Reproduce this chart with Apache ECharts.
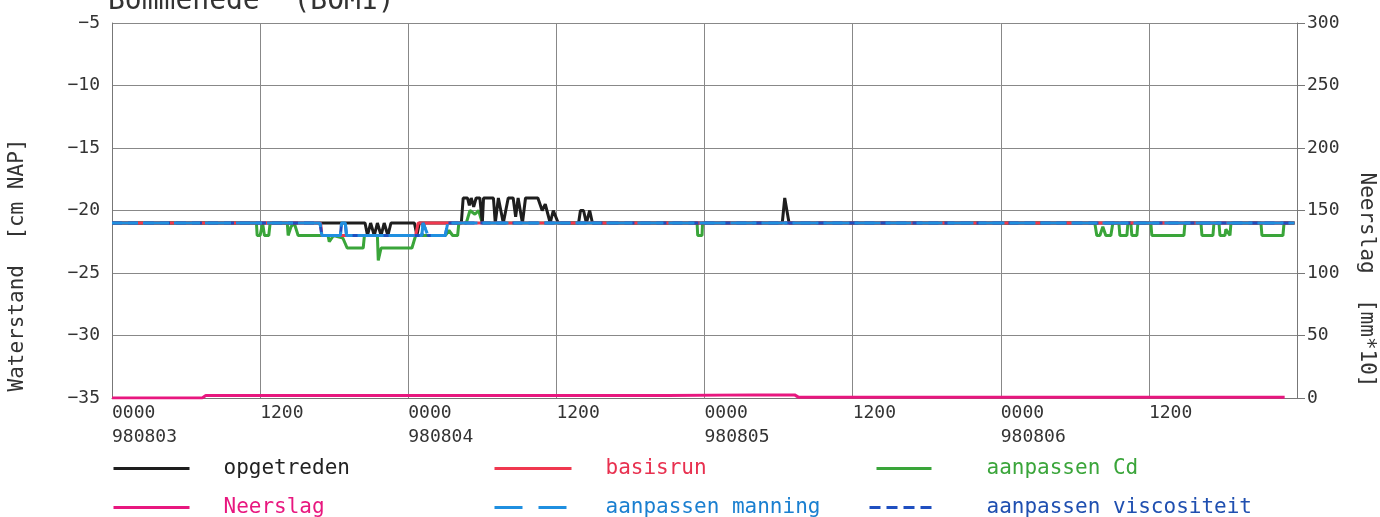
<!DOCTYPE html>
<html>
<head>
<meta charset="utf-8">
<script src="https://cdn.jsdelivr.net/npm/echarts@6/dist/echarts.min.js"></script>
<style>html,body{margin:0;padding:0;background:#fff}#c{width:1380px;height:517px}</style>
</head>
<body>
<div id="c"></div>
<script>
// x in hours from 980803 0000
const xTickLabels = ['0000\n980803','1200','0000\n980804','1200','0000\n980805','1200','0000\n980806','1200',''];
const opgetreden = [[0,-21],[17.0,-21],[20.5,-21],[20.7,-22],[20.95,-21],[21.25,-22],[21.5,-21],[21.8,-22],[22.05,-21],[22.35,-22],[22.6,-21],[24.5,-21],[24.7,-22],[24.9,-21],[25.3,-21],[28.3,-21],[28.45,-19],[28.8,-19],[28.95,-19.6],[29.1,-19],[29.3,-19.7],[29.5,-19],[29.8,-19],[30.0,-21],[30.1,-19],[30.9,-19],[31.05,-21],[31.3,-19],[31.7,-21],[32.1,-19],[32.5,-19],[32.7,-20.5],[32.9,-19],[33.25,-21],[33.5,-19],[34.5,-19],[34.85,-20],[35.1,-19.5],[35.5,-21],[35.75,-20],[36.15,-21],[37.8,-21],[37.95,-20],[38.2,-20],[38.43,-21],[38.7,-20],[38.92,-21],[54.3,-21],[54.5,-19],[54.65,-19],[54.85,-21],[95.8,-21]];
const basisrun = [[0,-21],[16.9,-21],[17.0,-22],[24.6,-22],[24.8,-21],[95.8,-21]];
const aanpassenCd = [[0,-21],[11.7,-21],[11.76,-22],[12.0,-22],[12.2,-21],[12.35,-22],[12.7,-22],[12.81,-21],[14.2,-21],[14.27,-22],[14.5,-21.3],[14.76,-21],[15.08,-22],[17.5,-22],[17.6,-22.5],[17.95,-22],[18.7,-22.2],[19.05,-23],[20.35,-23],[20.45,-22],[21.5,-22],[21.57,-24],[21.8,-23],[24.3,-23],[24.45,-22.5],[24.6,-22],[27.0,-22],[27.3,-21.6],[27.6,-22],[28.0,-22],[28.1,-21],[28.7,-21],[29.0,-20],[29.4,-20.3],[29.7,-20],[30.0,-21],[47.4,-21],[47.45,-22],[47.8,-22],[47.84,-21],[79.62,-21],[79.78,-22],[80.03,-22],[80.27,-21.3],[80.51,-22],[80.92,-22],[81.08,-21],[81.57,-21],[81.65,-22],[82.22,-22],[82.3,-21],[82.54,-21],[82.62,-22],[83.03,-22],[83.11,-21],[84.16,-21],[84.24,-22],[86.84,-22],[86.92,-21],[88.22,-21],[88.3,-22],[89.19,-22],[89.27,-21],[89.68,-21],[89.76,-22],[90.16,-22],[90.24,-21.5],[90.57,-22],[90.65,-21],[93.08,-21],[93.16,-22],[94.86,-22],[94.95,-21],[95.8,-21]];
const aanpassenManning = [[0,-21],[16.85,-21],[17.0,-22],[18.5,-22],[18.6,-21],[18.9,-21],[19.0,-22],[25.1,-22],[25.2,-21],[25.6,-22],[27.0,-22],[27.2,-21],[95.8,-21]];
const aanpassenViscositeit = [[0,-21],[16.85,-21],[17.0,-22],[18.5,-22],[18.6,-21],[18.9,-21],[19.0,-22],[25.1,-22],[25.2,-21],[25.6,-22],[27.0,-22],[27.2,-21],[95.8,-21]];
const neerslag = [[0,0],[7.3,0],[7.6,2],[45,2],[52,2.5],[55.3,2.5],[55.6,0.7],[95,0.7]];

const FONT = '"DejaVu Sans Mono", monospace';
const chart = echarts.init(document.getElementById('c'), null, {renderer:'canvas'});

function lg(name, left, top, iw, pad, color, dash){
  return {data:[{name:name, textStyle:{color:color}}], left:left, top:top, itemWidth:iw, itemHeight:14,
    itemStyle:{opacity:0, borderWidth:0},
    lineStyle:{width:3, type: dash || 'solid'},
    textStyle:{fontFamily:FONT, fontSize:21, color:color, padding:[0,0,0,pad]}, padding:0};
}
const line = (name, data, color, type, z, yIdx, w) => ({
  name, type:'line', data, yAxisIndex: yIdx||0, symbol:'none', showSymbol:false, z, animation:false,
  lineStyle:{color, width: w||3, type: type||'solid'}, itemStyle:{color}
});

chart.setOption({
  animation:false,
  title:{text:'Bommenede  (BOM1)', left:103, top:-17, textStyle:{fontFamily:FONT, fontSize:28, fontWeight:'normal', color:'#333'}},
  grid:{left:112, right:83, top:23, bottom:119, containLabel:false},
  legend:[
    lg('opgetreden', 112, 458, 76, 29, '#222'),
    lg('basisrun', 493, 458, 77, 29, '#e8304f'),
    lg('aanpassen Cd', 875, 458, 55, 50, '#3aa53a'),
    lg('Neerslag', 112, 497, 76, 29, '#e8177f'),
    lg('aanpassen manning', 493, 497, 77, 29, '#1a7fd0', [28,16]),
    lg('aanpassen viscositeit', 868, 497, 62, 50, '#1f4fb0', [11,6])
  ],
  xAxis:{type:'value', min:0, max:96, interval:12,
    axisLine:{show:true, lineStyle:{color:'#777'}}, axisTick:{show:false},
    splitLine:{show:true, lineStyle:{color:'#888', width:1}},
    axisLabel:{fontFamily:FONT, fontSize:18, color:'#333', align:'left', lineHeight:24, margin:3,
      formatter: v => xTickLabels[Math.round(v/12)] || ''}},
  yAxis:[
    {type:'value', min:-35, max:-5, interval:5, position:'left',
     axisLine:{show:true, lineStyle:{color:'#777'}}, axisTick:{show:false},
     splitLine:{show:true, lineStyle:{color:'#888', width:1}},
     axisLabel:{fontFamily:FONT, fontSize:18, color:'#333', margin:12, formatter: v => String(v).replace('-','\u2212')}},
    {type:'value', min:0, max:300, interval:50, position:'right',
     axisLine:{show:true, lineStyle:{color:'#777'}}, axisTick:{show:true, length:8, lineStyle:{color:'#777'}},
     splitLine:{show:false},
     axisLabel:{fontFamily:FONT, fontSize:18, color:'#333', margin:10}}
  ],
  graphic:[
    {type:'text', x:18, y:265, rotation:Math.PI/2, style:{text:'Waterstand  [cm NAP]', font:'21px '+FONT, fill:'#333', align:'center', verticalAlign:'middle'}},
    {type:'text', x:1366, y:280, rotation:-Math.PI/2, style:{text:'Neerslag  [mm*10]', font:'21px '+FONT, fill:'#333', align:'center', verticalAlign:'middle'}}
  ],
  series:[
    line('aanpassen Cd', aanpassenCd, '#3aa53a', 'solid', 2),
    line('opgetreden', opgetreden, '#1e1e1e', 'solid', 3),
    line('basisrun', basisrun, '#f0384f', 'solid', 4),
    line('aanpassen viscositeit', aanpassenViscositeit, '#1f4fc0', [10,6], 5),
    line('aanpassen manning', aanpassenManning, '#1f8fe0', [26,5], 6),
    line('Neerslag', neerslag, '#e8177f', 'solid', 7, 1, 3)
  ]
});
</script>
</body>
</html>
